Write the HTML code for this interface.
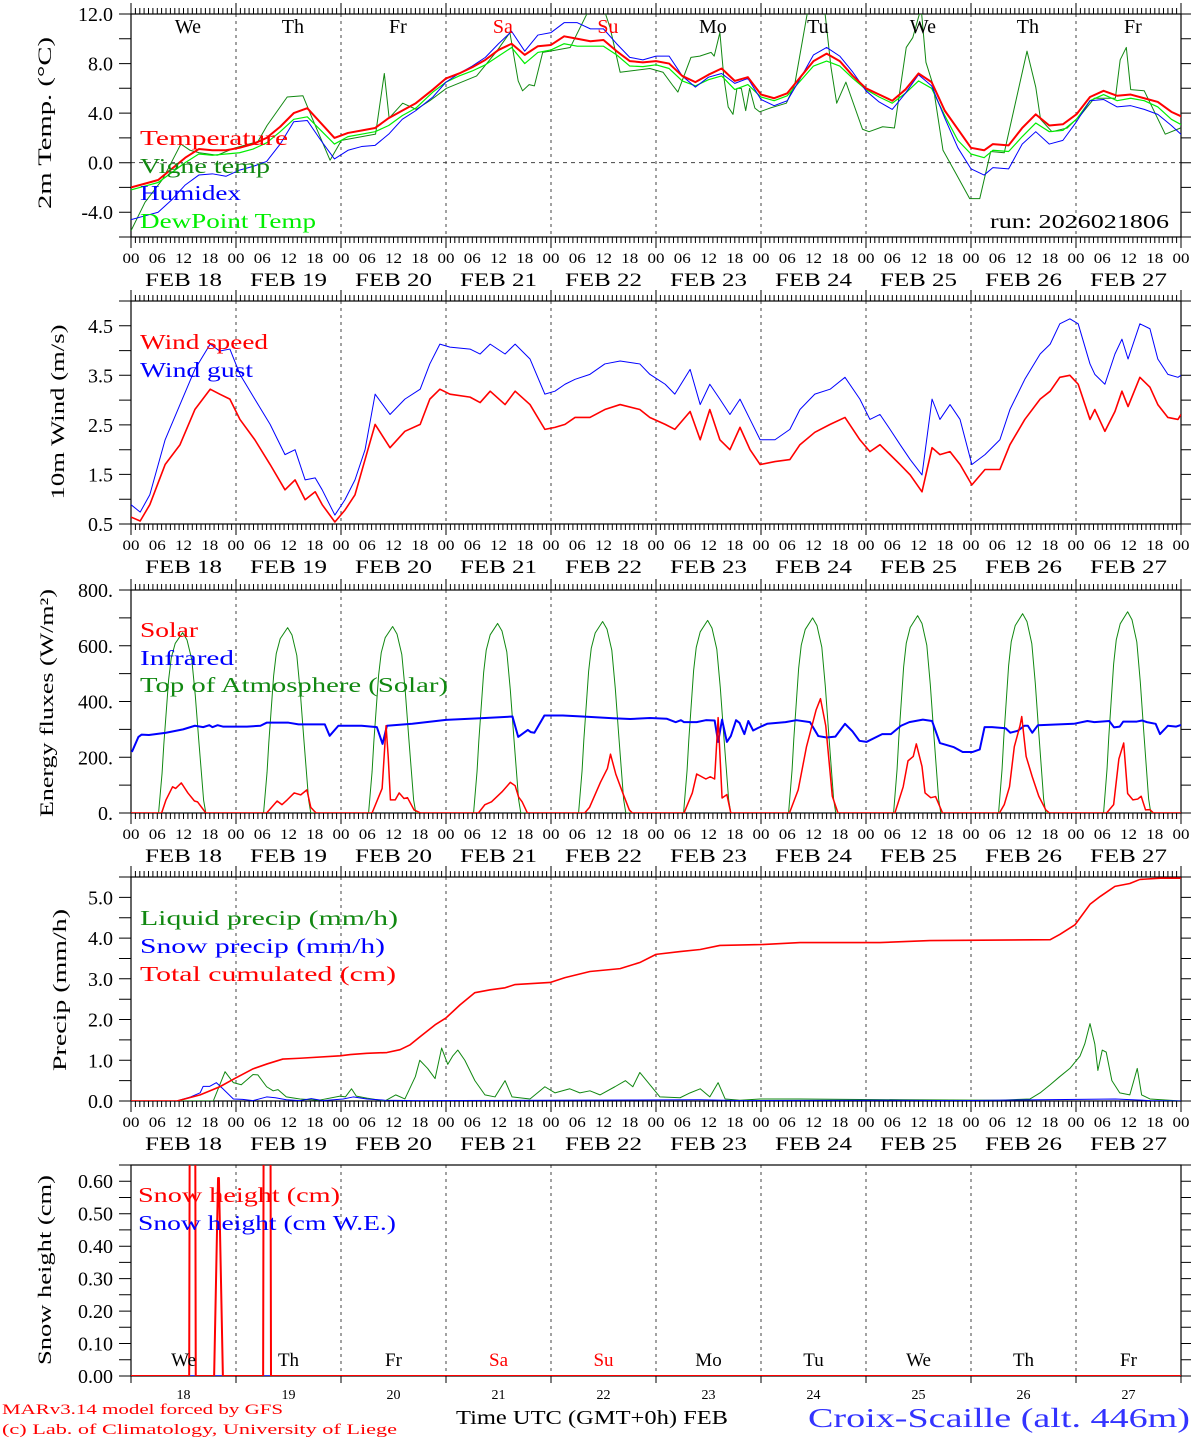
<!DOCTYPE html>
<html><head><meta charset="utf-8">
<style>
html,body{margin:0;padding:0;background:#fff;}
svg{display:block;}
text{font-family:"Liberation Serif",serif;}
</style></head>
<body>
<svg id="chart" width="1194" height="1440" viewBox="0 0 1194 1440" xmlns="http://www.w3.org/2000/svg"></svg>
<script>
// ---------- DATA ----------
const dayNames = ['We','Th','Fr','Sa','Su','Mo','Tu','We','Th','Fr'];
const dayNums = ['18','19','20','21','22','23','24','25','26','27'];
const hourLabels = ['00','06','12','18'];
const tempTicks = [12,8,4,0,-4];
const tempTickLabels = ['12.0','8.0','4.0','0.0','-4.0'];
const windTicks = [4.5,3.5,2.5,1.5,0.5];
const windTickLabels = ['4.5','3.5','2.5','1.5','0.5'];
const energyTicks = [800,600,400,200,0];
const energyTickLabels = ['800.','600.','400.','200.','0.'];
const precipTicks = [5,4,3,2,1,0];
const precipTickLabels = ['5.0','4.0','3.0','2.0','1.0','0.0'];
const snowTicks = [0.6,0.5,0.4,0.3,0.2,0.1,0];
const snowTickLabels = ['0.60','0.50','0.40','0.30','0.20','0.10','0.00'];

const tempHours = [0,3.1,6.2,9.3,12.4,15.5,18.6,21.7,24.8,27.9,31.0,34.1,37.2,40.3,43.4,46.5,49.6,52.7,55.8,58.9,62.0,65.1,
 69,72,75,78,81,84,87,90,93,96,99,102,105,108,111,114,117,120,123,126,129,132,135,138,141,144,147,150,153,156,159,162,165,168,171,174,177,180,183,186,189,192,195,
 197,200.6,203.7,206.8,209.9,213.0,216.1,219.2,222.3,225.4,228.5,231.6,234.7,237.8,240.9];
const temperature = [-2.0,-1.7,-1.4,-0.5,0.4,1.1,1.0,1.0,1.2,1.5,2.0,2.9,4.0,4.4,3.2,2.0,2.4,2.6,2.8,3.6,4.2,4.8,
 5.9,6.8,7.2,7.7,8.3,9.1,9.6,8.7,9.4,9.5,10.2,10.0,9.8,9.9,9.0,8.2,8.1,8.2,8.0,7.0,6.5,7.1,7.6,6.6,6.9,5.5,5.2,5.6,6.9,8.2,8.8,8.2,7.0,6.0,5.5,5.0,5.9,7.2,6.5,4.2,2.7,1.2,1.0,
 1.5,1.4,2.8,3.9,3.0,3.1,3.9,5.3,5.8,5.4,5.5,5.2,4.9,4.1,3.6];
const humidex = [-4.6,-4.3,-4.0,-3.0,-1.8,-1.0,-0.9,-1.1,-0.6,-0.3,0.1,1.5,3.3,3.4,1.8,0.3,1.0,1.3,1.4,2.3,3.5,4.2,
 5.3,6.5,7.2,7.8,8.5,9.6,10.6,9.0,10.3,10.5,11.3,11.3,10.8,10.8,9.6,8.5,8.3,8.6,8.6,7.0,6.1,6.9,7.2,6.4,6.8,5.1,4.6,5.0,6.8,8.7,9.3,8.6,7.3,5.8,4.9,4.3,5.6,7.1,6.2,3.6,1.2,-0.5,-1.0,
 -0.4,-0.5,1.5,2.5,1.5,1.8,3.3,5.0,5.1,4.5,4.6,4.3,3.9,3.0,2.0];
const dewPoint = [-2.2,-1.9,-1.6,-0.8,0.0,0.7,0.6,0.7,0.8,1.1,1.6,2.5,3.5,3.7,2.6,1.5,2.1,2.3,2.5,3.0,3.8,4.4,
 5.7,6.5,7.0,7.4,7.9,8.6,9.3,8.0,8.9,9.1,9.6,9.4,9.4,9.4,8.7,7.8,7.75,7.9,7.6,6.6,6.2,6.7,7.0,5.9,6.3,5.3,5.0,5.4,6.6,7.8,8.2,7.8,6.8,5.9,5.3,4.8,5.6,6.6,6.0,3.8,1.8,0.7,0.4,
 1.0,0.9,2.1,3.2,2.5,2.6,3.5,5.0,5.5,5.0,5.2,5.0,4.5,3.5,2.9];
const vigneHours = [0,3.2,7.3,11.4,13.5,15.6,19.7,23.8,29.0,31.1,35.7,39.3,41.4,45.5,48.1,55.9,57.9,59.0,62.1,65.2,
 68.3,72.1,79,83.6,86.6,88.5,89.5,91,92.2,94.1,95.8,100.4,104.9,108,109.5,111.8,118.6,121.6,123.9,125,128,130,132.6,133.3,134.6,135.5,136.5,137.6,138.5,139.5,140.5,141.4,142.6,143.7,146,149.8,151.7,154.8,158.5,160,161.3,163.4,167.2,168.7,171.8,174.5,177.2,178.7,180.6,181.7,183.3,185.6,188.6,191.7,194,
 196.5,199.6,204.8,206.8,207.9,210.5,214.0,217.2,220.2,225.0,226.1,227.5,228.5,231.6,236.4,239.9];
const vigneTemp = [-5.5,-3.2,-1.3,1.5,1.0,0.8,0.6,1.2,1.7,3.0,5.3,5.4,3.6,0.2,1.8,2.3,7.2,3.6,4.8,4.3,
 5.0,6.0,7.0,9.0,10.5,6.6,5.8,6.3,6.2,8.9,9.0,9.3,12.5,12.5,10.9,7.3,7.6,7.3,6.2,5.7,8.5,8.6,8.9,8.6,10.5,6.9,4.5,3.9,6.0,6.0,4.2,6.0,4.4,4.1,4.4,4.8,6.3,12.5,12.5,7.7,4.8,6.5,2.7,2.5,2.9,2.8,9.3,10.1,12.5,8.1,6.3,1.0,-0.9,-2.9,-2.9,
 0.9,0.8,9.0,6.1,3.5,2.5,2.8,3.9,5.2,5.2,8.3,9.3,5.9,5.8,2.3,2.8];

const windHours = [0,2.1,4.3,7.8,11.2,14.6,18.1,20.3,22.6,24.9,28.3,31.8,35.2,37.5,39.8,42.1,43.7,46.6,48.9,51.2,53.5,55.8,59.2,62.6,66.1,68.3,70.6,72.9,77.5,79.8,82.1,85.5,87.8,91.2,94.6,96.9,99.2,101.5,104.9,108.3,111.8,116.3,118.6,122.1,124.3,127.8,130.1,132.3,134.6,136.9,139.2,141.5,143.8,147.2,150.6,152.9,156.3,159.8,163.2,166.6,168.9,171.2,173.5,175.8,178.1,180.8,183.1,184.9,187.2,189.5,192.2,195.2,198.6,200.9,204.3,207.8,210.1,212.3,214.6,216.5,219.2,220.3,222.6,224.9,226.5,227.9,230.6,232.9,234.7,237.0,239.3,240];
const windSpeed = [0.64,0.56,0.89,1.70,2.10,2.81,3.22,3.12,3.02,2.61,2.20,1.70,1.19,1.39,0.99,1.15,0.89,0.54,0.78,1.09,1.80,2.51,2.04,2.37,2.51,3.02,3.22,3.12,3.06,2.95,3.18,2.91,3.18,2.91,2.41,2.45,2.51,2.65,2.65,2.81,2.91,2.81,2.65,2.51,2.41,2.77,2.20,2.81,2.20,2.00,2.45,2.00,1.70,1.76,1.80,2.10,2.35,2.51,2.65,2.20,1.96,2.10,1.90,1.70,1.49,1.15,2.04,1.90,1.96,1.70,1.29,1.60,1.60,2.10,2.61,3.02,3.18,3.46,3.50,3.32,2.61,2.81,2.37,2.77,3.18,2.87,3.46,3.26,2.91,2.65,2.61,2.71];
const windGust = [0.89,0.74,1.09,2.20,2.91,3.62,4.13,3.99,4.03,3.52,3.02,2.51,1.90,2.00,1.39,1.43,1.19,0.68,0.99,1.39,2.00,3.12,2.71,3.02,3.22,3.73,4.13,4.07,4.03,3.93,4.13,3.93,4.13,3.83,3.12,3.18,3.32,3.42,3.52,3.73,3.79,3.73,3.52,3.32,3.12,3.62,2.91,3.32,3.02,2.71,3.02,2.61,2.20,2.20,2.41,2.81,3.12,3.22,3.46,3.02,2.61,2.71,2.41,2.10,1.80,1.49,3.02,2.61,2.91,2.61,1.70,1.90,2.20,2.81,3.42,3.93,4.13,4.54,4.64,4.54,3.73,3.52,3.32,3.93,4.23,3.83,4.54,4.44,3.83,3.52,3.46,3.50];

const toaPeak = [647,665,669,680,687,691,700,708,715,722];
const toaProfHours = [6.3,7.1,7.5,8.6,9.2,10.1,11.8,12.8,13.9,14.7,15.5,16.6,17.1];
const toaProfile = [0,0.22,0.38,0.74,0.86,0.94,1.0,0.96,0.85,0.65,0.4,0.07,0];
const solarHours = [0,7.0,8.0,9.5,10.2,11.5,13.0,14.5,15.2,17.1, 31.0,33.4,34.5,35.7,37.3,38.8,40.2,41.1,42.3, 55.1,57.4,58.3,58.8,59.3,60.4,61.3,62.4,63.2,64.7,66.2, 79.4,80.9,82.4,84.8,86.7,87.8,88.6,89.4,90.6, 103.7,104.8,107.3,108.9,109.6,110.8,112.4,113.9,114.6,
 126.4,128.3,129.3,131.4,132.4,133.4,134.2,135.1,136.2,137.1, 150.5,152.5,154.4,156.6,157.6,158.8,160.3,161.6, 174.6,176.5,177.6,178.8,179.5,180.8,181.5,182.8,183.9,185.5, 198.5,199.6,200.8,201.9,203.2,203.6,204.6,206.0,207.5,209.1,209.9, 223.0,224.6,225.8,226.9,227.8,229.0,230.1,230.9,231.9,232.9,233.7,240];
const solar = [0,0,47,94,88,108,72,43,40,0, 0,43,30,47,72,65,83,20,0, 0,88,313,200,47,47,72,52,55,11,0, 0,30,40,76,110,98,57,40,0, 0,20,110,160,211,140,72,11,0,
 0,72,140,122,130,122,342,54,66,0, 0,83,238,370,410,313,60,0, 0,94,187,203,248,167,72,55,59,0, 0,30,94,238,313,346,203,130,60,11,0, 0,30,194,251,70,47,50,60,11,12,0,0];
const irHours = [0.2,1.7,2.4,4.1,8.0,11.9,14.6,16.5,17.9,18.6,19.8,21.0,26.5,29.6,31.0,36.0,38.3,44.3,45.4,47.4,52.7,56.2,57.5,58.5,64.3,72.0,79.8,87.2,88.5,90.7,91.4,92.2,94.5,98.7,103.2,110.2,114.1,118.6,
 122.5,124.5,125.7,126.4,129.3,131.4,133.4,134.2,135.1,136.2,137.1,138.3,139.1,140.2,141.1,142.2,143.3,145.4,149.6,152.1,155.2,157.1,159.0,161.0,163.2,164.9,166.5,168.1,171.7,173.7,176.0,177.9,181.0,183.1,184.9,188.1,190.1,192.4,194.0,195.1,196.8,199.9,201.0,202.7,204.2,205.0,206.0,207.3,215.5,218.6,220.2,223.6,224.7,226.0,226.8,229.9,231.1,232.2,234.2,235.2,237.0,238.9,240];
const infrared = [219,273,281,280,288,300,313,308,315,308,315,310,310,313,324,324,318,318,277,313,313,308,248,313,320,334,340,346,273,298,290,288,350,350,346,340,337,341,
 338,326,333,326,326,333,332,255,335,255,276,333,323,283,330,296,305,320,326,333,326,276,271,274,320,293,259,255,283,283,313,326,335,330,251,236,219,219,228,308,308,304,288,295,313,313,288,315,320,330,326,330,307,310,328,328,332,326,320,283,313,310,316];

const cumHours = [0,10.5,15.8,20.3,24,27.9,31.1,34.7,38.6,47.8,50.1,53.9,58.5,61.5,63.8,66.1,69.5,72,75.2,78.6,82.1,85.5,87.8,95.8,99.2,104.9,111.8,116.3,120,125.5,130.1,134.6,143.8,152.9,171.2,182.6,210.1,212.3,215.8,219.2,221.5,224.9,228.3,230.6,235.2,240];
const totalCum = [0,0,0.15,0.35,0.57,0.79,0.91,1.03,1.05,1.11,1.14,1.17,1.19,1.26,1.38,1.58,1.87,2.04,2.36,2.66,2.73,2.78,2.86,2.91,3.03,3.18,3.25,3.40,3.60,3.67,3.72,3.82,3.84,3.89,3.89,3.94,3.96,4.09,4.33,4.83,5.02,5.27,5.34,5.44,5.47,5.47];
const liquidHours = [0,18.8,21.5,23.4,25.2,27.9,29,31,32.5,33.6,35.5,38.6,43,47.8,49,50.4,51.5,53.9,58,60.5,62.6,65,66,67.8,69.5,71,72.4,73.5,74.7,76.3,78.6,80.9,83.2,85.5,87.1,91.2,94.6,96.9,100.3,102.6,104.9,107.2,110.6,113,114.7,116.3,118.6,120.9,125.5,127.8,130.1,132.3,134.2,135.8,139.2,143.8,152.9,176,198.6,205.5,207.8,210.1,212.3,214.6,216.9,218,219.2,220.3,221,222,222.9,224.2,226,228.3,230,231,232.9,240];
const liquidPrecip = [0,0,0.72,0.45,0.4,0.65,0.64,0.35,0.25,0.28,0.1,0.05,0.02,0.12,0.1,0.3,0.12,0.07,0,0.15,0.05,0.6,1.0,0.8,0.55,1.3,0.9,1.1,1.25,1.0,0.5,0.15,0.1,0.5,0.1,0.05,0.35,0.2,0.3,0.2,0.25,0.15,0.35,0.5,0.35,0.7,0.4,0.1,0.08,0.2,0.3,0.1,0.45,0.05,0.02,0.05,0.05,0.03,0.02,0.05,0.2,0.4,0.6,0.8,1.1,1.4,1.9,1.4,0.75,1.25,1.2,0.5,0.2,0.15,0.8,0.15,0.05,0];
const snowPrecipHours = [0,10.5,13.6,15.8,16.5,18,19.5,21,23.4,25.5,27.9,31,33,35.5,38.6,41.2,43.9,48.5,50.8,53.9,58,65,130,140,170,190,225,233,240];
const snowPrecip = [0,0,0.1,0.2,0.36,0.36,0.45,0.3,0.05,0.04,0.01,0.1,0.08,0.03,0.01,0.06,0.01,0.05,0.1,0.05,0.02,0.01,0.03,0.01,0.02,0.01,0.05,0.01,0];

const snowHours = [0,13.3,13.4,14.7,14.8,19.0,19.9,20.1,21.0,30.2,30.3,31.9,32.0,240];
const snowHeight = [0,0,0.66,0.66,0,0,0.61,0.61,0,0,0.66,0.66,0,0];
const snowWEHours = [0,240];
const snowWE = [0,0];

// ---------- DRAWING ----------
const NS = 'http://www.w3.org/2000/svg';
const svg = document.getElementById('chart');
const X0 = 131, X1 = 1181;
const xs = h => X0 + h * (X1 - X0) / 240;

function mk(tag, attrs, name, parent) {
  const el = document.createElementNS(NS, tag);
  for (const k in attrs) el.setAttribute(k, attrs[k]);
  
  
  (parent || svg).appendChild(el);
  return el;
}
function txt(x, y, s, size, color, name, parent, opts) {
  opts = opts || {};
  const a = {x: x, y: y, 'font-size': size, fill: color || '#000'};
  if (opts.anchor) a['text-anchor'] = opts.anchor;
  if (opts.len) { a.textLength = opts.len; a.lengthAdjust = 'spacingAndGlyphs'; }
  if (opts.transform) a.transform = opts.transform;
  const t = mk('text', a, name, parent);
  t.textContent = s;
  return t;
}

let clipId = 0;
function panel(p) {
  const g = mk('g', {}, p.name);
  const ys = v => p.bottom - (v - p.min) / (p.max - p.min) * (p.bottom - p.top);
  for (let d = 1; d < 10; d++) {
    mk('line', {x1: xs(24*d), x2: xs(24*d), y1: p.top, y2: p.bottom, stroke: '#444', 'stroke-width': 1, 'stroke-dasharray': '3,4'}, 'day-gridline', g);
  }
  if (p.zeroLine) mk('line', {x1: X0, x2: X1, y1: ys(0), y2: ys(0), stroke: '#444', 'stroke-dasharray': '4,4'}, 'zero-line', g);
  mk('rect', {x: X0, y: p.top, width: X1 - X0, height: p.bottom - p.top, fill: 'none', stroke: '#000', 'stroke-width': 1.2}, 'plot-frame', g);
  if (p.hourTicks) {
    let d = '';
    for (let h = 0; h <= 240; h++) {
      const L = h % 24 === 0 ? 11 : 6;
      const x = xs(h).toFixed(1);
      d += `M${x},${p.top}v${-L}M${x},${p.bottom}v${L}`;
    }
    mk('path', {d: d, stroke: '#000', 'stroke-width': 1, fill: 'none'}, 'x-ticks', g);
    for (let h = 0; h <= 240; h += 6) {
      txt(xs(h), p.bottom + 26, hourLabels[(h / 6) % 4], 15, '#000', 'x-tick-label', g, {anchor: 'middle', len: 17});
    }
    for (let d = 0; d < 10; d++) {
      txt(xs(24*d + 12), p.bottom + 49, 'FEB ' + dayNums[d], 19, '#000', 'date-label', g, {anchor: 'middle', len: 77});
    }
  } else {
    let d = '';
    for (let h = 0; h <= 240; h += 24) d += `M${xs(h).toFixed(1)},${p.bottom}v7`;
    mk('path', {d: d, stroke: '#000', fill: 'none'}, 'x-ticks', g);
  }
  let yd = '';
  for (let v = p.min; v <= p.max + 1e-9; v += p.minor) {
    const y = ys(v).toFixed(1);
    yd += `M${X0},${y}h-12M${X1},${y}h10`;
  }
  mk('path', {d: yd, stroke: '#000', 'stroke-width': 1, fill: 'none'}, 'y-ticks', g);
  p.ticks.forEach((v, i) => {
    txt(113, ys(v) + 7, p.tickLabels[i], 20, '#000', 'y-tick-label', g, {anchor: 'end'});
  });
  txt(p.titleX, p.titleY, p.title, 19, '#000', 'y-axis-title', g, {anchor: 'middle', len: p.titleLen, transform: `rotate(-90 ${p.titleX} ${p.titleY})`});
  const cid = 'clip' + (clipId++);
  const cp = mk('clipPath', {id: cid}, 'plot-clip', g);
  mk('rect', {x: X0, y: p.top, width: X1 - X0, height: p.bottom - p.top}, 'clip-rect', cp);
  const sg = mk('g', {'clip-path': `url(#${cid})`}, 'series-group', g);
  return {g: g, sg: sg, ys: ys};
}
function series(P, hours, vals, color, w, name) {
  let d = '';
  hours.forEach((h, i) => { d += (i ? 'L' : 'M') + xs(h).toFixed(2) + ',' + P.ys(vals[i]).toFixed(2); });
  mk('path', {d: d, stroke: color, 'stroke-width': w, fill: 'none', 'stroke-linejoin': 'round'}, name, P.sg);
}

const RED = '#ff0000', BLUE = '#0000ff', DG = '#118811', LG = '#00ee00';

const P1 = panel({name: 'temperature-panel', top: 14, bottom: 237, min: -6, max: 12, minor: 2, ticks: tempTicks, tickLabels: tempTickLabels, hourTicks: true, zeroLine: true, title: '2m Temp. (\u00B0C)', titleX: 51, titleY: 123, titleLen: 172});
series(P1, vigneHours, vigneTemp, DG, 1, 'vigne-temp-line');
series(P1, tempHours, dewPoint, LG, 1.2, 'dewpoint-line');
series(P1, tempHours, humidex, BLUE, 1, 'humidex-line');
series(P1, tempHours, temperature, RED, 2, 'temperature-line');
dayNames.forEach((n, i) => {
  const c = (i === 3 || i === 4) ? RED : '#000';
  txt(xs(24*i + 13), 33, n, 20, c, 'weekday-label', P1.g, {anchor: 'middle'});
});
txt(140, 145, 'Temperature', 21, RED, 'legend-temperature', P1.g, {len: 148});
txt(140, 173, 'Vigne temp', 21, DG, 'legend-vigne-temp', P1.g, {len: 130});
txt(140, 200, 'Humidex', 21, BLUE, 'legend-humidex', P1.g, {len: 101});
txt(140, 228, 'DewPoint Temp', 21, LG, 'legend-dewpoint', P1.g, {len: 176});
txt(990, 228, 'run: 2026021806', 20, '#000', 'run-label', P1.g, {len: 179});

const P2 = panel({name: 'wind-panel', top: 301, bottom: 524, min: 0.5, max: 5.0, minor: 0.5, ticks: windTicks, tickLabels: windTickLabels, hourTicks: true, title: '10m Wind (m/s)', titleX: 64, titleY: 412, titleLen: 175});
series(P2, windHours, windGust, BLUE, 1, 'wind-gust-line');
series(P2, windHours, windSpeed, RED, 1.6, 'wind-speed-line');
txt(140, 349, 'Wind speed', 21, RED, 'legend-wind-speed', P2.g, {len: 128});
txt(140, 377, 'Wind gust', 21, BLUE, 'legend-wind-gust', P2.g, {len: 113});

const P3 = panel({name: 'energy-panel', top: 590, bottom: 813, min: 0, max: 800, minor: 100, ticks: energyTicks, tickLabels: energyTickLabels, hourTicks: true, title: 'Energy fluxes (W/m\u00B2)', titleX: 53, titleY: 703, titleLen: 228});
const toaH = [], toaV = [];
toaPeak.forEach((pk, d) => {
  toaProfHours.forEach((h, i) => { toaH.push(24*d + h); toaV.push(pk * toaProfile[i]); });
});
toaH.unshift(0); toaV.unshift(0); toaH.push(240); toaV.push(0);
series(P3, toaH, toaV, DG, 1, 'toa-solar-line');
series(P3, irHours, infrared, BLUE, 2, 'infrared-line');
series(P3, solarHours, solar, RED, 1.5, 'solar-line');
txt(140, 637, 'Solar', 21, RED, 'legend-solar', P3.g, {len: 58});
txt(140, 665, 'Infrared', 21, BLUE, 'legend-infrared', P3.g, {len: 94});
txt(140, 692, 'Top of Atmosphere (Solar)', 21, DG, 'legend-toa', P3.g, {len: 308});

const P4 = panel({name: 'precip-panel', top: 877, bottom: 1101, min: 0, max: 5.5, minor: 0.5, ticks: precipTicks, tickLabels: precipTickLabels, hourTicks: true, title: 'Precip (mm/h)', titleX: 66, titleY: 990, titleLen: 162});
series(P4, liquidHours, liquidPrecip, DG, 1, 'liquid-precip-line');
series(P4, snowPrecipHours, snowPrecip, BLUE, 1, 'snow-precip-line');
series(P4, cumHours, totalCum, RED, 1.6, 'total-cumulated-line');
txt(140, 925, 'Liquid precip (mm/h)', 21, DG, 'legend-liquid-precip', P4.g, {len: 258});
txt(140, 953, 'Snow precip (mm/h)', 21, BLUE, 'legend-snow-precip', P4.g, {len: 245});
txt(140, 981, 'Total cumulated (cm)', 21, RED, 'legend-total-cumulated', P4.g, {len: 256});

const P5 = panel({name: 'snow-panel', top: 1165, bottom: 1376, min: 0, max: 0.65, minor: 0.05, ticks: snowTicks, tickLabels: snowTickLabels, hourTicks: false, title: 'Snow height (cm)', titleX: 51, titleY: 1270, titleLen: 190});
series(P5, snowWEHours, snowWE, BLUE, 1.5, 'snow-we-line');
series(P5, snowHours, snowHeight, RED, 2, 'snow-height-line');
dayNames.forEach((n, i) => {
  const c = (i === 3 || i === 4) ? RED : '#000';
  txt(xs(24*i + 12), 1366, n, 19, c, 'weekday-label', P5.g, {anchor: 'middle'});
});
dayNums.forEach((n, i) => {
  txt(xs(24*i + 12), 1399, n, 14, '#000', 'day-number-label', P5.g, {anchor: 'middle'});
});
txt(138, 1202, 'Snow height (cm)', 21, RED, 'legend-snow-height', P5.g, {len: 202});
txt(138, 1230, 'Snow height (cm W.E.)', 21, BLUE, 'legend-snow-we', P5.g, {len: 258});

txt(456, 1424, 'Time UTC (GMT+0h) FEB', 20, '#000', 'x-axis-title', null, {len: 272});
txt(2, 1414, 'MARv3.14 model forced by GFS', 15, RED, 'model-credit', null, {len: 281});
txt(2, 1434, '(c) Lab. of Climatology, University of Liege', 15, RED, 'copyright-credit', null, {len: 395});
txt(808, 1427, 'Croix-Scaille (alt. 446m)', 27, '#3333ff', 'station-title', null, {len: 382});
</script>
</body></html>
